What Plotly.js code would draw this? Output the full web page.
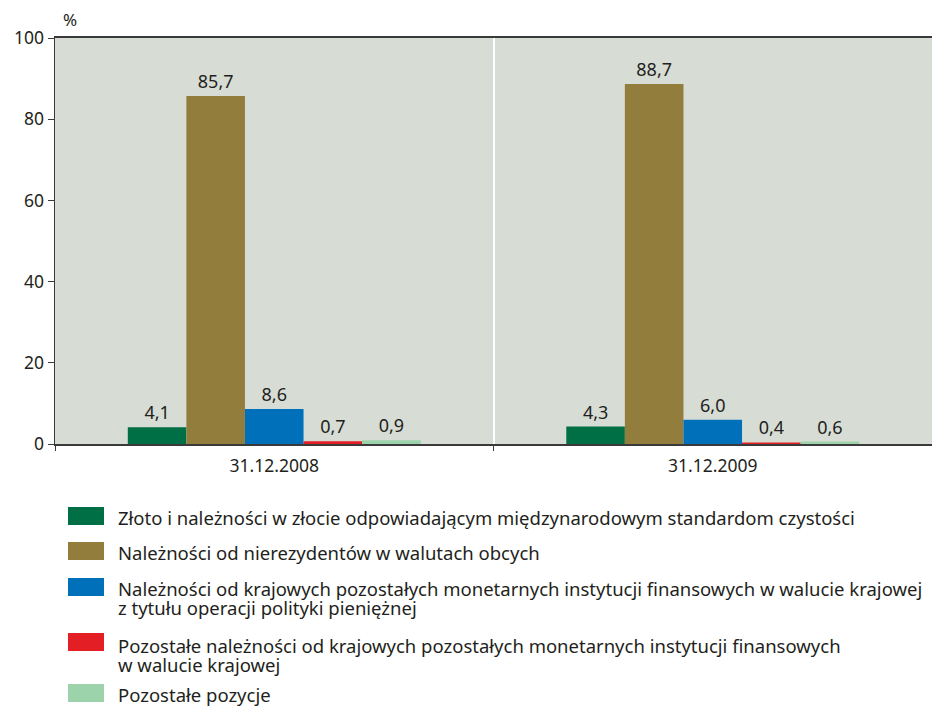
<!DOCTYPE html>
<html>
<head>
<meta charset="utf-8">
<script src="https://cdn.plot.ly/plotly-3.0.1.min.js"></script>
<style>html,body{margin:0;padding:0;background:#fff;}#chart{width:932px;height:706px;}</style>
</head>
<body>
<div id="chart"></div>
<script>
const categories = ["31.12.2008", "31.12.2009"];
const seriesNames = [
  "Złoto i należności w złocie odpowiadającym międzynarodowym standardom czystości",
  "Należności od nierezydentów w walutach obcych",
  "Należności od krajowych pozostałych monetarnych instytucji finansowych w walucie krajowej<br>z tytułu operacji polityki pieniężnej",
  "Pozostałe należności od krajowych pozostałych monetarnych instytucji finansowych<br>w walucie krajowej",
  "Pozostałe pozycje"
];
const gold = [4.1, 4.3];
const nonResidents = [85.7, 88.7];
const mfiPolicy = [8.6, 6.0];
const mfiOther = [0.7, 0.4];
const otherItems = [0.9, 0.6];
const seriesValues = [gold, nonResidents, mfiPolicy, mfiOther, otherItems];
const colors = ["#006f45", "#927d3c", "#0070bb", "#e31e24", "#9dd3ab"];
const yTicks = [0, 20, 40, 60, 80, 100];

const FONT = "Noto Sans, Open Sans, sans-serif";
const TXT = "#231f20";
const W = 932, H = 706;
const M = {l: 55, r: 0, t: 38, b: 262};
const pw = W - M.l - M.r, ph = H - M.t - M.b;
const px = x => (x - M.l) / pw;
const py = y => (H - M.b - y) / ph;

const traces = seriesValues.map((vals, i) => ({
  type: "bar",
  x: categories,
  y: vals,
  name: seriesNames[i],
  marker: {color: colors[i], line: {width: 0}},
  texttemplate: "%{y:.1f}",
  textposition: "outside",
  textfont: {family: FONT, size: 18, color: TXT},
  cliponaxis: false,
  hoverinfo: "skip",
  showlegend: false
}));

const shapes = [];
const annotations = [{
  text: "%", xref: "paper", yref: "paper", x: px(61), y: py(20),
  xanchor: "left", yanchor: "middle", showarrow: false,
  font: {family: FONT, size: 17, color: TXT}
}];
// legend layout (pixel positions): rect tops and text line centres
const rectTops = [507, 542, 578, 633, 684];
const lineCentres = [[517], [552], [588, 607], [645, 664], [695]];
seriesNames.forEach((n, i) => {
  shapes.push({type: "rect", xref: "paper", yref: "paper",
    x0: px(68), x1: px(104), y0: py(rectTops[i] + 18), y1: py(rectTops[i]),
    fillcolor: colors[i], line: {width: 0}});
  n.split("<br>").forEach((line, j) => {
    annotations.push({
      text: line, xref: "paper", yref: "paper", x: px(116), y: py(lineCentres[i][j]),
      xanchor: "left", yanchor: "middle", align: "left", showarrow: false,
      font: {family: FONT, size: 18.5, color: TXT}
    });
  });
});

const layout = {
  width: W, height: H,
  margin: M,
  paper_bgcolor: "#ffffff",
  plot_bgcolor: "#d7dcd5",
  separators: ", ",
  barmode: "group",
  bargap: 0.332,
  bargroupgap: 0,
  showlegend: false,
  font: {family: FONT, size: 17.5, color: TXT},
  xaxis: {
    type: "category", tickson: "boundaries",
    showgrid: true, gridcolor: "#ffffff", gridwidth: 2,
    showline: true, linecolor: "#3a3a3a", linewidth: 2, mirror: true,
    ticks: "outside", ticklen: 5, tickcolor: "#3a3a3a",
    ticklabelstandoff: 5,
    tickfont: {family: FONT, size: 17.5, color: TXT},
    fixedrange: true
  },
  yaxis: {
    range: [0, 100], tickvals: yTicks, ticktext: yTicks.map(String),
    showgrid: false, zeroline: false,
    showline: true, linecolor: "#3a3a3a", linewidth: 1.5,
    ticks: "outside", ticklen: 6, tickcolor: "#3a3a3a",
    tickfont: {family: FONT, size: 17.5, color: TXT},
    fixedrange: true
  },
  shapes: shapes,
  annotations: annotations
};

Plotly.newPlot("chart", traces, layout, {staticPlot: true});
</script>
</body>
</html>
